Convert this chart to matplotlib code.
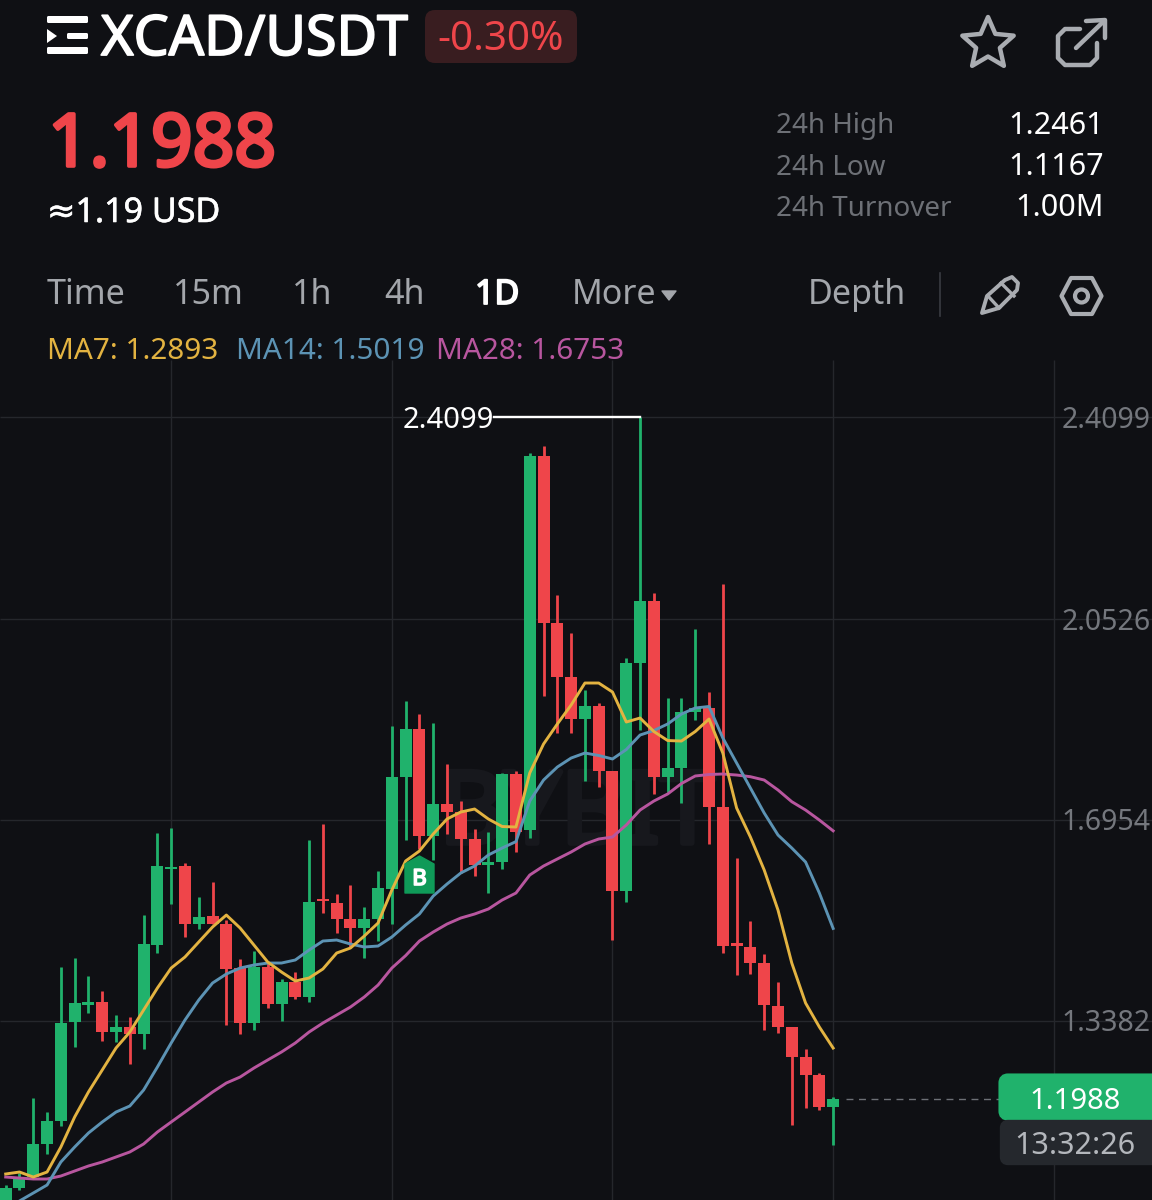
import math
import matplotlib
matplotlib.use("Agg")
import matplotlib.pyplot as plt
import matplotlib.patheffects as pe
from matplotlib.patches import FancyBboxPatch, Polygon, Circle

# ---------- data (prices) ----------
opens = [1.0015,1.0406,1.0601,1.1188,1.1597,1.3356,1.3658,1.3711,1.3178,1.3267,1.3143,1.4724,1.6075,1.6128,1.5097,1.5240,
         1.5097,1.4315,1.3338,1.4333,1.3676,1.4067,1.3800,1.5542,1.5471,1.5186,1.5026,1.5186,1.5719,1.7710,1.8563,1.6661,
         1.7230,1.7088,1.6608,1.6146,1.6199,1.7763,1.6768,2.3414,2.0446,1.9487,1.8740,1.8971,1.7816,1.5684,1.9736,2.0837,
         1.7710,1.7870,1.8865,1.8936,1.7177,1.4760,1.4689,1.4404,1.3640,1.3267,1.2734,1.2414,1.1845]
highs = [1.0459,1.0672,1.2005,1.1756,1.4333,1.4493,1.4173,1.3907,1.3480,1.3445,1.5257,1.6715,1.6803,1.6181,1.5577,1.5844,
         1.5168,1.4475,1.4618,1.4404,1.4120,1.4244,1.6590,1.6874,1.5631,1.5790,1.5400,1.6039,1.8616,1.9060,1.8829,1.8669,
         1.7941,1.7283,1.6786,1.6732,1.7781,1.7816,2.3468,2.3592,2.0944,2.0269,1.9256,1.9025,1.7816,1.9824,2.4099,2.0980,
         1.9114,1.9114,2.0340,1.9220,2.1140,1.6270,1.5151,1.4564,1.4067,1.3267,1.2876,1.2450,1.2023]
lows = [0.9900,1.0370,1.0583,1.1010,1.1508,1.2912,1.3516,1.3018,1.3000,1.2609,1.2876,1.4582,1.5453,1.4866,1.5009,1.5097,
        1.3303,1.3143,1.3214,1.3605,1.3374,1.3765,1.3711,1.5293,1.4937,1.4689,1.4493,1.4795,1.5097,1.6590,1.6430,1.6235,
        1.6697,1.6004,1.5950,1.5648,1.6075,1.6377,1.6626,1.9149,1.8492,1.8492,1.7639,1.7532,1.4813,1.5488,1.8545,1.7408,
        1.7443,1.7248,1.8723,1.6519,1.4582,1.4191,1.4209,1.3214,1.3160,1.1525,1.1828,1.1792,1.1167]
closes = [1.0406,1.0601,1.1188,1.1597,1.3338,1.3693,1.3711,1.3178,1.3267,1.3143,1.4742,1.6128,1.6110,1.5097,1.5222,1.5097,
          1.4298,1.3338,1.4333,1.3676,1.4067,1.3800,1.5488,1.5506,1.5186,1.5026,1.5186,1.5737,1.7710,1.8563,1.6661,1.7230,
          1.7088,1.6608,1.6146,1.6199,1.7763,1.6732,2.3414,2.0446,1.9487,1.8740,1.8971,1.7816,1.5684,1.9736,2.0837,1.7710,
          1.7870,1.8865,1.8936,1.7177,1.4706,1.4706,1.4404,1.3658,1.3267,1.2734,1.2414,1.1845,1.1988]
ma7 = [1.0655,1.0690,1.0601,1.0690,1.1134,1.1668,1.2112,1.2503,1.2894,1.3178,1.3569,1.3960,1.4315,1.4511,1.4778,1.5044,
       1.5257,1.5026,1.4724,1.4422,1.4244,1.4084,1.4138,1.4298,1.4582,1.4671,1.4884,1.5115,1.5702,1.6217,1.6395,1.6697,
       1.6963,1.7088,1.7141,1.6963,1.6830,1.6821,1.7781,1.8296,1.8652,1.8989,1.9380,1.9380,1.9220,1.8687,1.8758,1.8518,
       1.8358,1.8349,1.8518,1.8740,1.8136,1.7159,1.6643,1.6057,1.5346,1.4404,1.3693,1.3267,1.2893]
ma14 = [1.0104,1.0175,1.0317,1.0459,1.0868,1.1134,1.1383,1.1579,1.1756,1.1863,1.2147,1.2556,1.2983,1.3391,1.3747,1.4049,
        1.4209,1.4315,1.4369,1.4404,1.4404,1.4458,1.4635,1.4795,1.4813,1.4742,1.4689,1.4706,1.4866,1.5080,1.5275,1.5595,
        1.5808,1.6004,1.6128,1.6324,1.6448,1.6562,1.7283,1.7656,1.7887,1.8047,1.8136,1.8092,1.8030,1.8198,1.8456,1.8536,
        1.8652,1.8829,1.8936,1.8963,1.8403,1.7959,1.7514,1.7070,1.6679,1.6448,1.6199,1.5648,1.5019]
ma28 = [1.0601,1.0583,1.0566,1.0566,1.0619,1.0708,1.0797,1.0868,1.0957,1.1046,1.1188,1.1401,1.1579,1.1756,1.1934,1.2112,
        1.2272,1.2378,1.2538,1.2681,1.2823,1.2983,1.3178,1.3338,1.3480,1.3622,1.3800,1.4013,1.4315,1.4536,1.4795,1.4955,
        1.5097,1.5204,1.5275,1.5364,1.5524,1.5648,1.5968,1.6128,1.6253,1.6377,1.6519,1.6608,1.6643,1.6857,1.7123,1.7283,
        1.7408,1.7594,1.7728,1.7754,1.7763,1.7745,1.7715,1.7656,1.7479,1.7271,1.7123,1.6945,1.6753]
price_ticks = [2.4099, 2.0526, 1.6954, 1.3382]
price_tick_labels = ["2.4099", "2.0526", "1.6954", "1.3382"]
time_ticks = [12, 28, 44, 60, 76]
peak_index = 46
peak_price = 2.4099
last_price = 1.1988
tabs = ["Time", "15m", "1h", "4h", "1D", "More", "Depth"]
stat_names = ["24h High", "24h Low", "24h Turnover"]
stat_values = ["1.2461", "1.1167", "1.00M"]
ma_labels = ["MA7: 1.2893", "MA14: 1.5019", "MA28: 1.6753"]

# ---------- styling ----------
BG = "#0f1014"; GREEN = "#20b26c"; RED = "#ef454a"; GRID = "#25272c"
C7 = "#e3b341"; C14 = "#5c93b4"; C28 = "#b8569f"
plt.rcParams["font.family"] = ["Noto Sans", "DejaVu Sans"]


def heavy(color, width):
    return [pe.withStroke(linewidth=width, foreground=color)]


fig = plt.figure(figsize=(11.52, 12), dpi=100, facecolor=BG)
ax = fig.add_axes([0, 0, 1, 1], facecolor=BG)
ax.set_xlim(-0.413, 83.12)
ax.set_ylim(3.1518 - 0.0017771 * 1200, 3.1518)
ax.axis("off")
ui = fig.add_axes([0, 0, 1, 1], facecolor="none")
ui.set_xlim(0, 1152); ui.set_ylim(1200, 0); ui.axis("off")

# grid
chart_top = 3.1518 - 0.0017771 * 360
ax.hlines(price_ticks, -0.413, 83.12, color=GRID, lw=1, zorder=1)
ax.vlines(time_ticks, 1.0, chart_top, color=GRID, lw=1, zorder=1)

# watermark
ax.text(577, 843, "BYBIT", transform=ui.transData, ha="center", va="baseline",
        fontsize=72, color="#17181d", zorder=1.5, path_effects=heavy("#17181d", 4))

# candles
xs = list(range(len(opens)))
cols = [GREEN if c >= o else RED for o, c in zip(opens, closes)]
ax.vlines(xs, lows, highs, colors=cols, lw=2.0, zorder=3)
ax.bar(xs, [abs(c - o) for o, c in zip(opens, closes)], bottom=[min(o, c) for o, c in zip(opens, closes)],
       width=0.87, color=cols, linewidth=0, zorder=3)

# moving averages
ax.plot(xs, ma28, color=C28, lw=2.1, zorder=4, solid_joinstyle="round")
ax.plot(xs, ma14, color=C14, lw=2.1, zorder=5, solid_joinstyle="round")
ax.plot(xs, ma7, color=C7, lw=2.1, zorder=6, solid_joinstyle="round")

# peak annotation
ax.plot([peak_index - 10.6, peak_index], [peak_price, peak_price], color="white", lw=1.7, zorder=7)
ui.text(403, 428, "2.4099", color="white", fontsize=21, ha="left", va="baseline")

# B marker
ui.add_patch(Polygon([(405, 893), (405, 864), (419.5, 856), (434, 864), (434, 893)], closed=True,
                     fc="#0f9a58", ec="#0f9a58", lw=1, joinstyle="round", zorder=8))
ui.text(419.5, 885, "B", color="white", fontsize=16, ha="center", va="baseline", zorder=9,
        path_effects=heavy("white", 1.2))

# last price
ax.plot([60.9, 72.2], [last_price, last_price], color="#6d7076", lw=1, ls=(0, (5, 4)), zorder=2)
ui.add_patch(FancyBboxPatch((1004, 1079), 160, 36, boxstyle="round,pad=0,rounding_size=4",
                            fc=GREEN, ec=GREEN, lw=8, zorder=8))
ui.add_patch(FancyBboxPatch((1004, 1124), 160, 37, boxstyle="round,pad=0,rounding_size=4",
                            fc="#25282d", ec="#25282d", lw=6, zorder=8))
ui.text(1075, 1109, "1.1988", color="white", fontsize=21, ha="center", va="baseline", zorder=9)
ui.text(1075, 1154, "13:32:26", color="#b4b7bc", fontsize=22, ha="center", va="baseline", zorder=9)

# price axis labels
for t, lab, base in zip(price_ticks, price_tick_labels, [428, 630, 830, 1031]):
    ui.text(1151, base, lab, color="#74777d", fontsize=20.5, ha="right", va="baseline")

# header
W = "#ffffff"
for r in [(47, 16, 41, 7), (47, 47, 41, 7), (67, 33, 21, 6)]:
    ui.add_patch(FancyBboxPatch((r[0] + 1, r[1] + 1), r[2] - 2, r[3] - 2, boxstyle="round,pad=1,rounding_size=1.5", fc=W, ec="none"))
ui.add_patch(Polygon([(47, 29), (47, 43), (57, 36)], closed=True, fc=W, ec="none"))
ui.text(101, 55, "XCAD/USDT", color=W, fontsize=40, ha="left", va="baseline", path_effects=heavy(W, 1.3))
ui.add_patch(FancyBboxPatch((431, 16), 140, 41, boxstyle="round,pad=6,rounding_size=10", fc="#391d20", ec="none"))
ui.text(501, 50, "-0.30%", color=RED, fontsize=29, ha="center", va="baseline")
ui.text(48, 166, "1.1988", color=RED, fontsize=52.5, ha="left", va="baseline", path_effects=heavy(RED, 2.6))
ui.text(47, 222, "≈1.19 USD", color=W, fontsize=24.5, ha="left", va="baseline", path_effects=heavy(W, 0.4))

# stats
for name, val, base in zip(stat_names, stat_values, [133.5, 175, 216]):
    ui.text(776, base, name, color="#6d7076", fontsize=20, ha="left", va="baseline")
    ui.text(1104, base, val, color=W, fontsize=22, ha="right", va="baseline")

# tabs
for lab, x in zip(tabs, [47, 173, 292, 384, 475, 572, 808]):
    act = lab == "1D"
    ui.text(x, 304, lab, color=W if act else "#a3a6ab", fontsize=24.5, ha="left", va="baseline",
            path_effects=heavy(W, 1.3) if act else None)
ui.add_patch(Polygon([(662, 291), (676, 291), (669, 300)], closed=True, fc="#a3a6ab", ec="#a3a6ab", lw=1, joinstyle="round"))
ui.plot([940, 940], [273, 316], color="#3a3c42", lw=1.2)

# MA legend
for lab, x, c in zip(ma_labels, [47, 236, 436], [C7, C14, C28]):
    ui.text(x, 359, lab, color=c, fontsize=21.4, ha="left", va="baseline")

# icons
IC = "#a9acb1"
star = []
for k in range(10):
    r = 27 if k % 2 == 0 else 12.5
    a = -math.pi / 2 + k * math.pi / 5
    star.append((988 + r * math.cos(a), 44 + r * math.sin(a)))
ui.add_patch(Polygon(star, closed=True, fc="none", ec=IC, lw=3.2, joinstyle="round"))
ui.plot([1080, 1065, 1058, 1058, 1065, 1090, 1097, 1097], [29, 29, 36, 58, 65, 65, 58, 43], color=IC, lw=3.2,
        solid_joinstyle="round", solid_capstyle="round")
ui.plot([1076, 1104], [48, 21], color=IC, lw=3.2, solid_capstyle="round")
ui.plot([1086, 1105, 1105], [21, 20, 38], color=IC, lw=3.2, solid_joinstyle="round", solid_capstyle="round")
ui.add_patch(Polygon([(982, 313), (987, 296), (1005, 280), (1012, 277), (1018, 283), (1017, 290), (999, 308)],
                     closed=True, fc="none", ec=IC, lw=2.8, joinstyle="round"))
ui.plot([988, 999], [296, 308], color=IC, lw=2.4)
ui.plot([1001, 1014], [283, 296], color=IC, lw=2.4)
hexa = [(1061.5, 296), (1071, 278), (1092, 278), (1101.5, 296), (1092, 314), (1071, 314)]
ui.add_patch(Polygon(hexa, closed=True, fc="none", ec=IC, lw=3, joinstyle="round"))
ui.add_patch(Circle((1081.5, 296), 6.5, fc="none", ec=IC, lw=3))

fig.savefig("out.png", dpi=100, facecolor=BG)
